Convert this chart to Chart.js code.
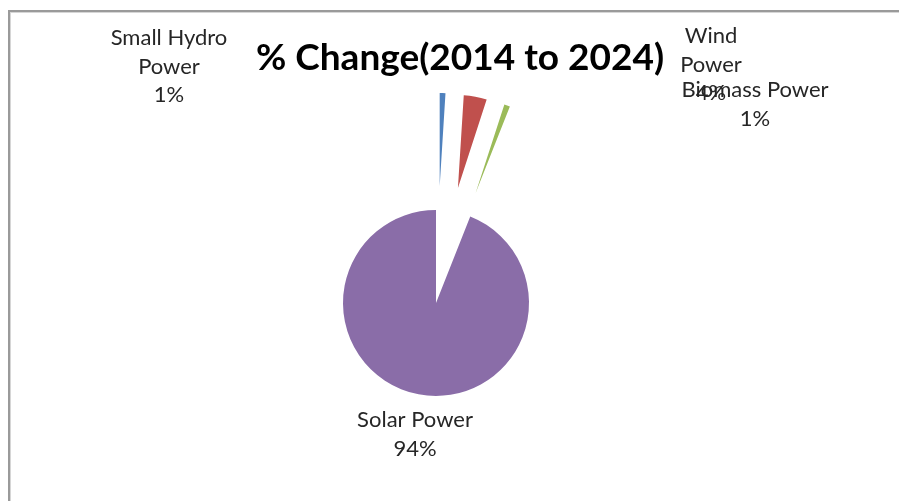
<!DOCTYPE html>
<html>
<head>
<meta charset="utf-8">
<title>% Change(2014 to 2024)</title>
<script src="https://cdn.jsdelivr.net/npm/chart.js@4/dist/chart.umd.min.js"></script>
<style>
  html, body { margin: 0; padding: 0; background: #ffffff; }
  #wrap { position: relative; width: 899px; height: 501px; }
  canvas { display: block; }
</style>
</head>
<body>
<div id="wrap"><canvas id="pie" width="899" height="501"></canvas></div>
<script>
// Share of the % change between 2014 and 2024, by power source
const sources = ['Small Hydro Power', 'Wind Power', 'Biomass Power', 'Solar Power'];
const shares = [1, 4, 1, 94];
// Wrapped label text for each slice (percentage is appended when drawn)
const labelLines = [['Small Hydro', 'Power'], ['Wind', 'Power'], ['Biomass Power'], ['Solar Power']];
const chartTitle = '% Change(2014 to 2024)';

// Styling
const sliceColors = ['#4F81BD', '#C0504D', '#9BBB59', '#8A6DA8'];
const sliceShift = [117, 117, 117, 0];              // explosion distance, px
const labelAnchor = [[-267, -258], [275, -260], [319, -206], [-21, 124]]; // from pie centre
const LINE_STEP = 28.5;
const LABEL_FONT = '22px Lato, "Open Sans", sans-serif';
const TITLE_FONT = 'bold 37px Lato, "Open Sans", sans-serif';
const TITLE_POS = { x: 460, y: 70 };

// Pull slices away from the centre along their bisector, keeping their radius
const explodeSlices = {
  id: 'explodeSlices',
  beforeDatasetDraw(chart, args) {
    const ctx = chart.ctx;
    args.meta.data.forEach((arc, i) => {
      const d = sliceShift[i] || 0;
      const mid = (arc.startAngle + arc.endAngle) / 2;
      ctx.save();
      ctx.translate(Math.cos(mid) * d, Math.sin(mid) * d);
      arc.draw(ctx);
      ctx.restore();
    });
    return false;
  }
};

// Title plus category name + percentage beside each slice
const chartText = {
  id: 'chartText',
  afterDatasetsDraw(chart) {
    const ctx = chart.ctx;
    const meta = chart.getDatasetMeta(0);
    const total = shares.reduce((a, b) => a + b, 0);
    const cx = meta.data[0].x, cy = meta.data[0].y;
    ctx.save();
    ctx.textAlign = 'center';
    ctx.textBaseline = 'alphabetic';

    ctx.font = TITLE_FONT;
    ctx.fillStyle = '#000000';
    ctx.fillText(chartTitle, TITLE_POS.x, TITLE_POS.y);

    ctx.font = LABEL_FONT;
    ctx.fillStyle = '#262626';
    shares.forEach((v, i) => {
      const lines = labelLines[i].concat([Math.round(v / total * 100) + '%']);
      const x = cx + labelAnchor[i][0];
      let y = cy + labelAnchor[i][1];
      lines.forEach(t => { ctx.fillText(t, x, y); y += LINE_STEP; });
    });
    ctx.restore();
  }
};

// Plot-area frame (top and left edges)
const frame = {
  id: 'frame',
  beforeDraw(chart) {
    const ctx = chart.ctx;
    ctx.save();
    ctx.fillStyle = '#9a9a9a';
    ctx.fillRect(8, 10, chart.width - 8, 2);
    ctx.fillRect(8, 10, 2, chart.height - 10);
    ctx.fillStyle = '#d6d6d6';
    ctx.fillRect(10, 12, chart.width - 10, 1);
    ctx.fillRect(10, 12, 1, chart.height - 12);
    ctx.restore();
  }
};

new Chart(document.getElementById('pie'), {
  type: 'pie',
  data: {
    labels: sources,
    datasets: [{
      data: shares,
      backgroundColor: sliceColors,
      borderWidth: 0,
      radius: 93,
      clip: false
    }]
  },
  options: {
    responsive: false,
    animation: false,
    events: [],
    layout: { padding: { left: 0, right: 27, top: 105, bottom: 0 } },
    plugins: {
      legend: { display: false },
      tooltip: { enabled: false },
      title: { display: false }
    }
  },
  plugins: [frame, explodeSlices, chartText]
});
</script>
</body>
</html>
